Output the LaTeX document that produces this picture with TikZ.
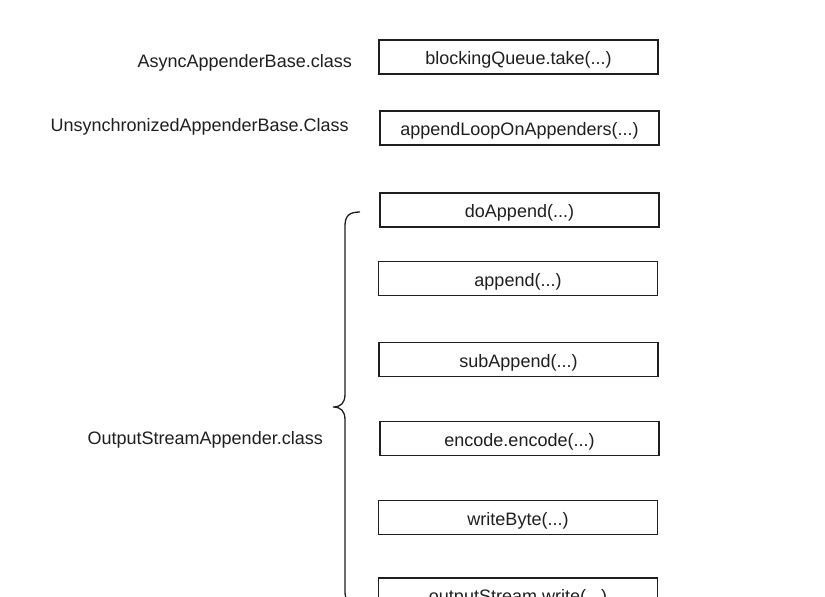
\documentclass[tikz,border=0pt]{standalone}
\usepackage{fontspec}
\setmainfont{Liberation Sans}
\begin{document}
\begin{tikzpicture}[x=1pt,y=-1pt,
  fn/.style={draw=black!88,line width=1.5pt,minimum width=279pt,minimum height=34pt,inner sep=0pt,text height=19pt,text depth=3.8pt,font=\fontsize{18}{21}\selectfont,text=black!88},
  cls/.style={anchor=east,inner sep=0pt,font=\fontsize{18}{21}\selectfont,text=black!88}]
\useasboundingbox (0,0) rectangle (825,597);
\clip (0,0) rectangle (825,597);
\fill[white] (0,0) rectangle (825,597);
\node[fn] (b1) at (518.5,57) {blockingQueue.take(...)};
\node[fn] (b2) at (519.5,128) {appendLoopOnAppenders(...)};
\node[fn] (b3) at (519.5,210) {doAppend(...)};
\node[fn] (b4) at (518,278.5) {append(...)};
\node[fn] (b5) at (518.5,359.5) {subAppend(...)};
\node[fn] (b6) at (519.5,438.5) {encode.encode(...)};
\node[fn] (b7) at (518,517.5) {writeByte(...)};
\node[fn] (b8) at (518,595) {outputStream.write(...)};
\node[cls] (c1) at (352,63) {AsyncAppenderBase.class};
\node[cls] (c2) at (349,127) {UnsynchronizedAppenderBase.Class};
\node[cls] (c3) at (323,440) {OutputStreamAppender.class};
\draw[black!88,line width=1.3pt]
  (360,212) .. controls (349,212) and (345,216) .. (345,226)
  -- (345,394) .. controls (345,403) and (341,407) .. (333,407)
  .. controls (341,407) and (345,411) .. (345,420)
  -- (345,592) .. controls (345,600) and (349,604) .. (360,604);
\end{tikzpicture}
\end{document}
